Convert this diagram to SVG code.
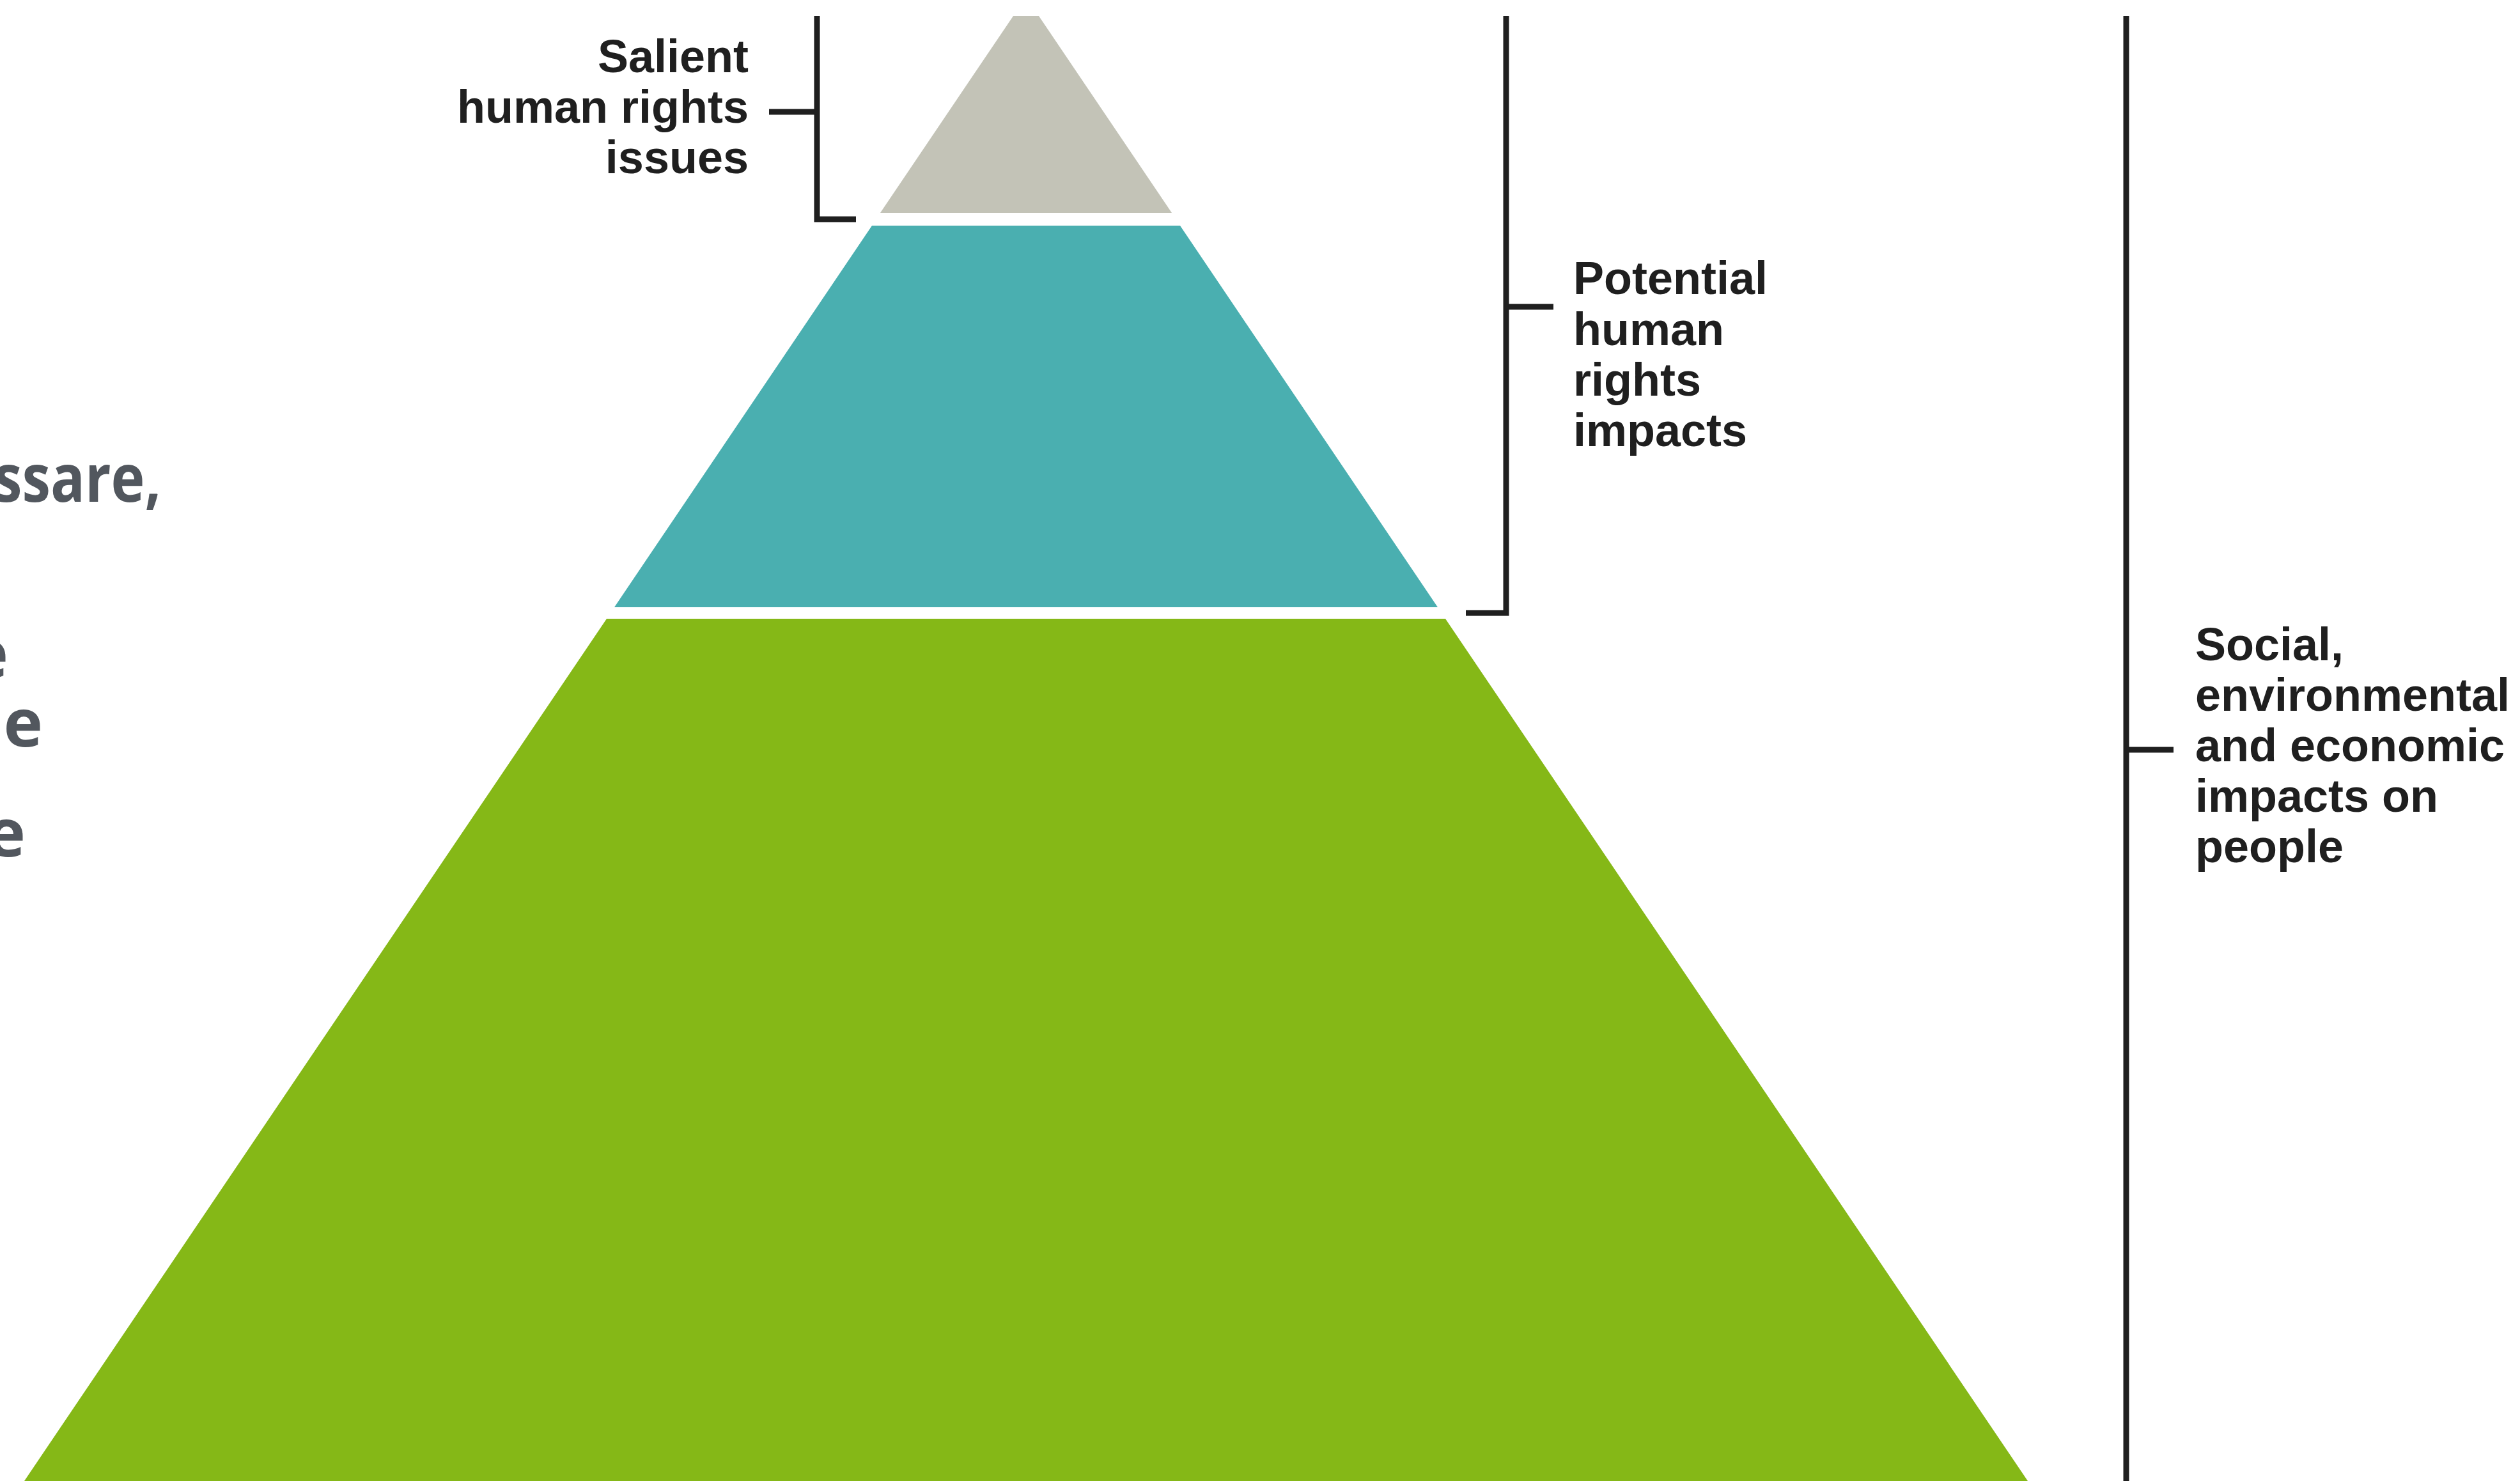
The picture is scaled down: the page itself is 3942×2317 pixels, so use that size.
<svg xmlns="http://www.w3.org/2000/svg" width="3942" height="2317" viewBox="0 0 3942 2317">
  <style>
    .lbl { font-family: "Liberation Sans", Arial, sans-serif; font-weight: 700; font-size: 72px; fill: #1f1f1f; }
    .side { font-family: "Open Sans", "Liberation Sans", sans-serif; font-weight: 700; font-size: 104px; fill: #52575e; }
    .br { fill: none; stroke: #1f1f1f; stroke-width: 9; stroke-linecap: butt; stroke-linejoin: miter; }
  </style>
  <rect x="0" y="0" width="3942" height="2317" fill="#ffffff"/>

  <g id="side-text">
    <text class="side" x="-10" y="785" textLength="262" lengthAdjust="spacingAndGlyphs">ssare,</text>
    <text class="side" x="13" y="1060" text-anchor="end">e</text>
    <text class="side" x="67" y="1168" text-anchor="end">e</text>
    <text class="side" x="40" y="1340" text-anchor="end">e</text>
  </g>

  <g id="layer-salient">
    <polygon points="1585,25 1625,25 1833,333 1377,333" fill="#c3c3b7"/>
  </g>
  <g id="layer-potential">
    <polygon points="1364,353 1846,353 2249,950 961,950" fill="#4aafb0"/>
  </g>
  <g id="layer-social">
    <polygon points="949,968 2261,968 3172,2317 38,2317" fill="#85b817"/>
  </g>

  <g id="connectors">
    <polyline class="br" points="1278,25 1278,343 1339,343"/>
    <line class="br" x1="1203" y1="175" x2="1278" y2="175"/>
    <polyline class="br" points="2356,25 2356,959 2293,959"/>
    <line class="br" x1="2356" y1="480" x2="2430" y2="480"/>
    <line class="br" x1="3326" y1="25" x2="3326" y2="2317"/>
    <line class="br" x1="3326" y1="1173" x2="3400" y2="1173"/>
  </g>

  <g id="label-salient">
    <text class="lbl" x="1171" y="113" text-anchor="end">Salient</text>
    <text class="lbl" x="1171" y="192" text-anchor="end">human rights</text>
    <text class="lbl" x="1171" y="271" text-anchor="end">issues</text>
  </g>
  <g id="label-potential">
    <text class="lbl" x="2461" y="460">Potential</text>
    <text class="lbl" x="2461" y="540">human</text>
    <text class="lbl" x="2461" y="619">rights</text>
    <text class="lbl" x="2461" y="698">impacts</text>
  </g>
  <g id="label-social">
    <text class="lbl" x="3434" y="1033">Social,</text>
    <text class="lbl" x="3434" y="1112">environmental</text>
    <text class="lbl" x="3434" y="1191">and economic</text>
    <text class="lbl" x="3434" y="1270">impacts on</text>
    <text class="lbl" x="3434" y="1349">people</text>
  </g>
</svg>
